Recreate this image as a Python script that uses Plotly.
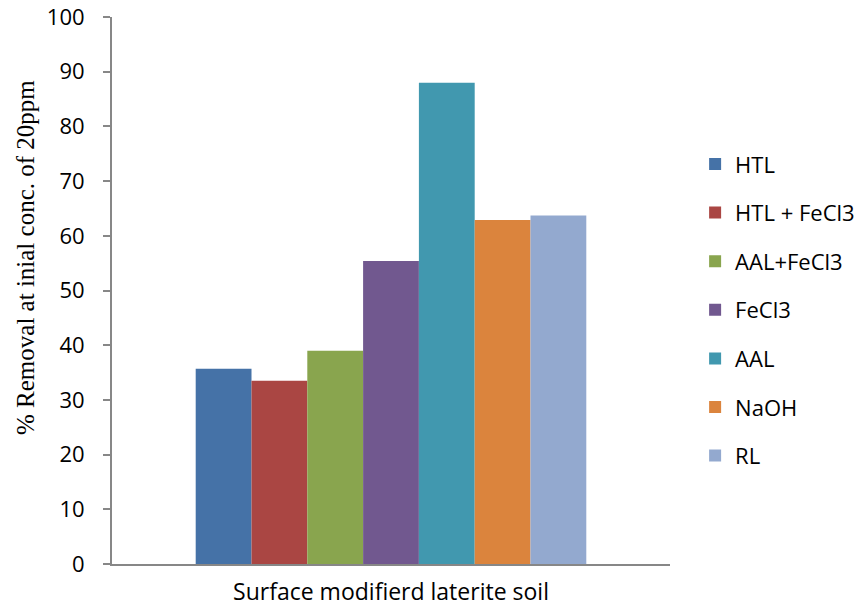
import plotly.graph_objects as go

category = ["Surface modifierd laterite soil"]
series_names = ["HTL", "HTL + FeCl3", "AAL+FeCl3", "FeCl3", "AAL", "NaOH", "RL"]
series_values = [35.7, 33.5, 39.0, 55.4, 88.0, 62.9, 63.7]
series_colors = ["#4572A7", "#AA4643", "#89A54E", "#71588F", "#4198AF", "#DB843D", "#93A9CF"]
y_ticks = [0, 10, 20, 30, 40, 50, 60, 70, 80, 90, 100]

fig = go.Figure()
for i, (name, val, col) in enumerate(zip(series_names, series_values, series_colors)):
    fig.add_trace(go.Bar(
        x=category, y=[val], name=name,
        marker=dict(color=col, line=dict(width=0)),
        legendgroup=f"g{i}",
    ))

sans = "Open Sans, Noto Sans, sans-serif"
axis_col = "#878787"
fig.update_layout(
    width=864, height=615,
    margin=dict(l=112, r=194, t=17, b=51, pad=0, autoexpand=False),
    plot_bgcolor="white", paper_bgcolor="white",
    barmode="group", bargap=0.3, bargroupgap=0,
    font=dict(family=sans, color="black"),
    showlegend=True,
    legend=dict(
        x=1.045, xanchor="left", y=0.464, yanchor="middle",
        font=dict(size=22, family=sans),
        tracegroupgap=17, traceorder="grouped",
        bgcolor="rgba(0,0,0,0)",
    ),
    xaxis=dict(
        showline=True, linecolor=axis_col, linewidth=2,
        ticks="", showgrid=False, automargin=False,
        tickfont=dict(size=23, family=sans),
        ticklabelstandoff=6,
    ),
    yaxis=dict(
        range=[0, 100], tickvals=y_ticks,
        showline=True, linecolor=axis_col, linewidth=2,
        ticks="outside", ticklen=7, tickcolor=axis_col, tickwidth=1.5,
        showgrid=False, zeroline=False, automargin=False,
        tickfont=dict(size=22, family=sans),
        ticklabelstandoff=14,
    ),
    annotations=[dict(
        text="% Removal at inial conc. of 20ppm",
        xref="paper", yref="paper",
        x=(25 - 112) / 558, y=(564 - 258) / 547,
        xanchor="center", yanchor="middle",
        textangle=-90, showarrow=False,
        font=dict(size=25, family="Liberation Serif, Times New Roman, serif", color="black"),
    )],
)

fig.write_html("out.html")
